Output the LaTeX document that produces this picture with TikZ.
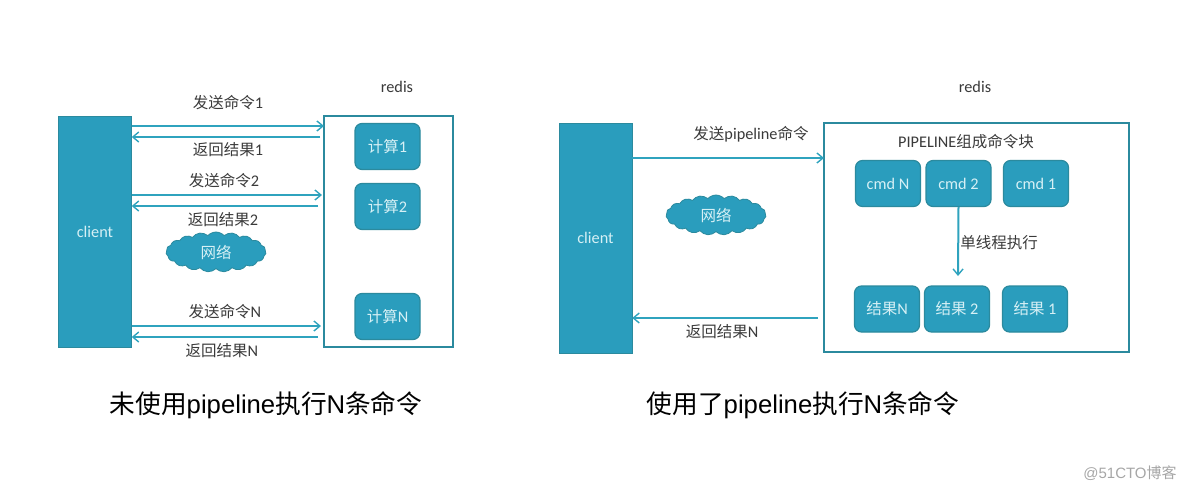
\documentclass[tikz,border=0pt]{standalone}
\usepackage{fontspec}
\setmainfont{Carlito}[Scale=1.05]
\newfontfamily\zhfont{Noto Sans CJK SC}
\newfontfamily\capfont{Liberation Sans}
\newcommand{\zh}[1]{{\zhfont #1}}
\usetikzlibrary{positioning}
\usetikzlibrary{shapes.symbols}
\usetikzlibrary{arrows.meta}
\definecolor{tealfill}{HTML}{2A9DBD}
\definecolor{tealedge}{HTML}{2B8A9E}
\definecolor{tealline}{HTML}{2FA3BE}
\definecolor{softtext}{HTML}{D6F0F5}
\definecolor{labeltext}{HTML}{3A3A3A}
\tikzset{
  hostbox/.style={draw=tealedge,fill=tealfill,text=softtext,minimum width=73pt,inner sep=0pt},
  redisbox/.style={draw=tealedge,line width=1.5pt,fill=white,inner sep=0pt},
  jobbox/.style={draw=tealedge,fill=tealfill,text=softtext,rounded corners=7pt,line width=1.2pt,minimum width=65pt,minimum height=46pt,inner sep=0pt},
  netcloud/.style={cloud,cloud puffs=19,cloud puff arc=95,aspect=2.8,draw=tealedge,line width=0.8pt,fill=tealfill,text=softtext,minimum width=100pt,minimum height=40pt,inner sep=0pt},
  msg/.style={text=labeltext,inner sep=0pt},
  link/.style={-{Straight Barb[length=6pt,width=10pt,line width=1.4pt]},tealline,line width=2pt},
  caption/.style={text=black,inner sep=0pt,font=\fontsize{25.7}{30}\selectfont\capfont}
}
\begin{document}
\begin{tikzpicture}[x=1pt,y=-1pt,on grid,font=\fontsize{15.5}{18}\selectfont]
  \useasboundingbox (0,0) rectangle (1184,490);
  % left: without pipeline
  \node[hostbox,minimum height=231pt] (client_l) at (95,231.5) {client};
  \node[redisbox,minimum width=129pt,minimum height=231pt] (redis_l) at (388.5,231.5) {};
  \node[msg] (redis_t_l) at (397,87) {redis};
  \node[jobbox] (calc_1) at (387.5,146.5) {\zh{计算}1};
  \node[jobbox,below=60pt of calc_1] (calc_2) {\zh{计算}2};
  \node[jobbox,below=110pt of calc_2] (calc_n) {\zh{计算}N};
  \node[netcloud] (net_l) at (216,252) {\zh{网络}};
  \coordinate (send_1) at (324,126);
  \coordinate (back_1) at (320,137);
  \coordinate (send_2) at (322,195);
  \coordinate (back_2) at (318,206);
  \coordinate (send_n) at (321,326);
  \coordinate (back_n) at (318,337);
  \draw[link] (client_l.east |- send_1) -- (send_1);
  \draw[link] (back_1) -- (client_l.east |- back_1);
  \draw[link] (client_l.east |- send_2) -- (send_2);
  \draw[link] (back_2) -- (client_l.east |- back_2);
  \draw[link] (client_l.east |- send_n) -- (send_n);
  \draw[link] (back_n) -- (client_l.east |- back_n);
  \node[msg] (msg_s1) at (228,103) {\zh{发送命令}1};
  \node[msg] (msg_r1) at (228,150) {\zh{返回结果}1};
  \node[msg] (msg_s2) at (224,181) {\zh{发送命令}2};
  \node[msg] (msg_r2) at (223,220) {\zh{返回结果}2};
  \node[msg] (msg_sn) at (225,312) {\zh{发送命令}N};
  \node[msg] (msg_rn) at (222,351) {\zh{返回结果}N};
  \node[caption] (cap_l) at (266,405) {\zh{未使用}pipeline\zh{执行}N\zh{条命令}};
  % right: with pipeline
  \node[hostbox,minimum height=230pt] (client_r) at (595.5,238) {client};
  \node[redisbox,minimum width=305pt,minimum height=229pt] (redis_r) at (976.5,237.5) {};
  \node[msg] (redis_t_r) at (975,87) {redis};
  \node[msg] (block_t) at (966,142) {PIPELINE\zh{组成命令块}};
  \node[jobbox] (cmd_n) at (888,183.5) {cmd N};
  \node[jobbox,right=70.5pt of cmd_n] (cmd_2) {cmd 2};
  \node[jobbox,right=77.5pt of cmd_2] (cmd_1) {cmd 1};
  \node[jobbox] (res_n) at (887,309) {\zh{结果}N};
  \node[jobbox,right=70pt of res_n] (res_2) {\zh{结果} 2};
  \node[jobbox,right=78pt of res_2] (res_1) {\zh{结果} 1};
  \node[netcloud] (net_r) at (716,215) {\zh{网络}};
  \coordinate (exec_end) at (958,276);
  \coordinate (send_p) at (824,158);
  \coordinate (back_p) at (818,318);
  \draw[link] (client_r.east |- send_p) -- (send_p);
  \draw[link] (back_p) -- (client_r.east |- back_p);
  \draw[link] (cmd_2.south) -- (exec_end);
  \node[msg] (msg_sp) at (751,134) {\zh{发送}pipeline\zh{命令}};
  \node[msg] (msg_rp) at (722,332) {\zh{返回结果}N};
  \node[msg] (msg_ex) at (999,243) {\zh{单线程执行}};
  \node[caption] (cap_r) at (803,405) {\zh{使用了}pipeline\zh{执行}N\zh{条命令}};
  % site mark
  \node[text=black!35,inner sep=0pt,font=\fontsize{15}{16}\selectfont\capfont] (site) at (1130,473) {@51CTO\zh{博客}};
\end{tikzpicture}
\end{document}
